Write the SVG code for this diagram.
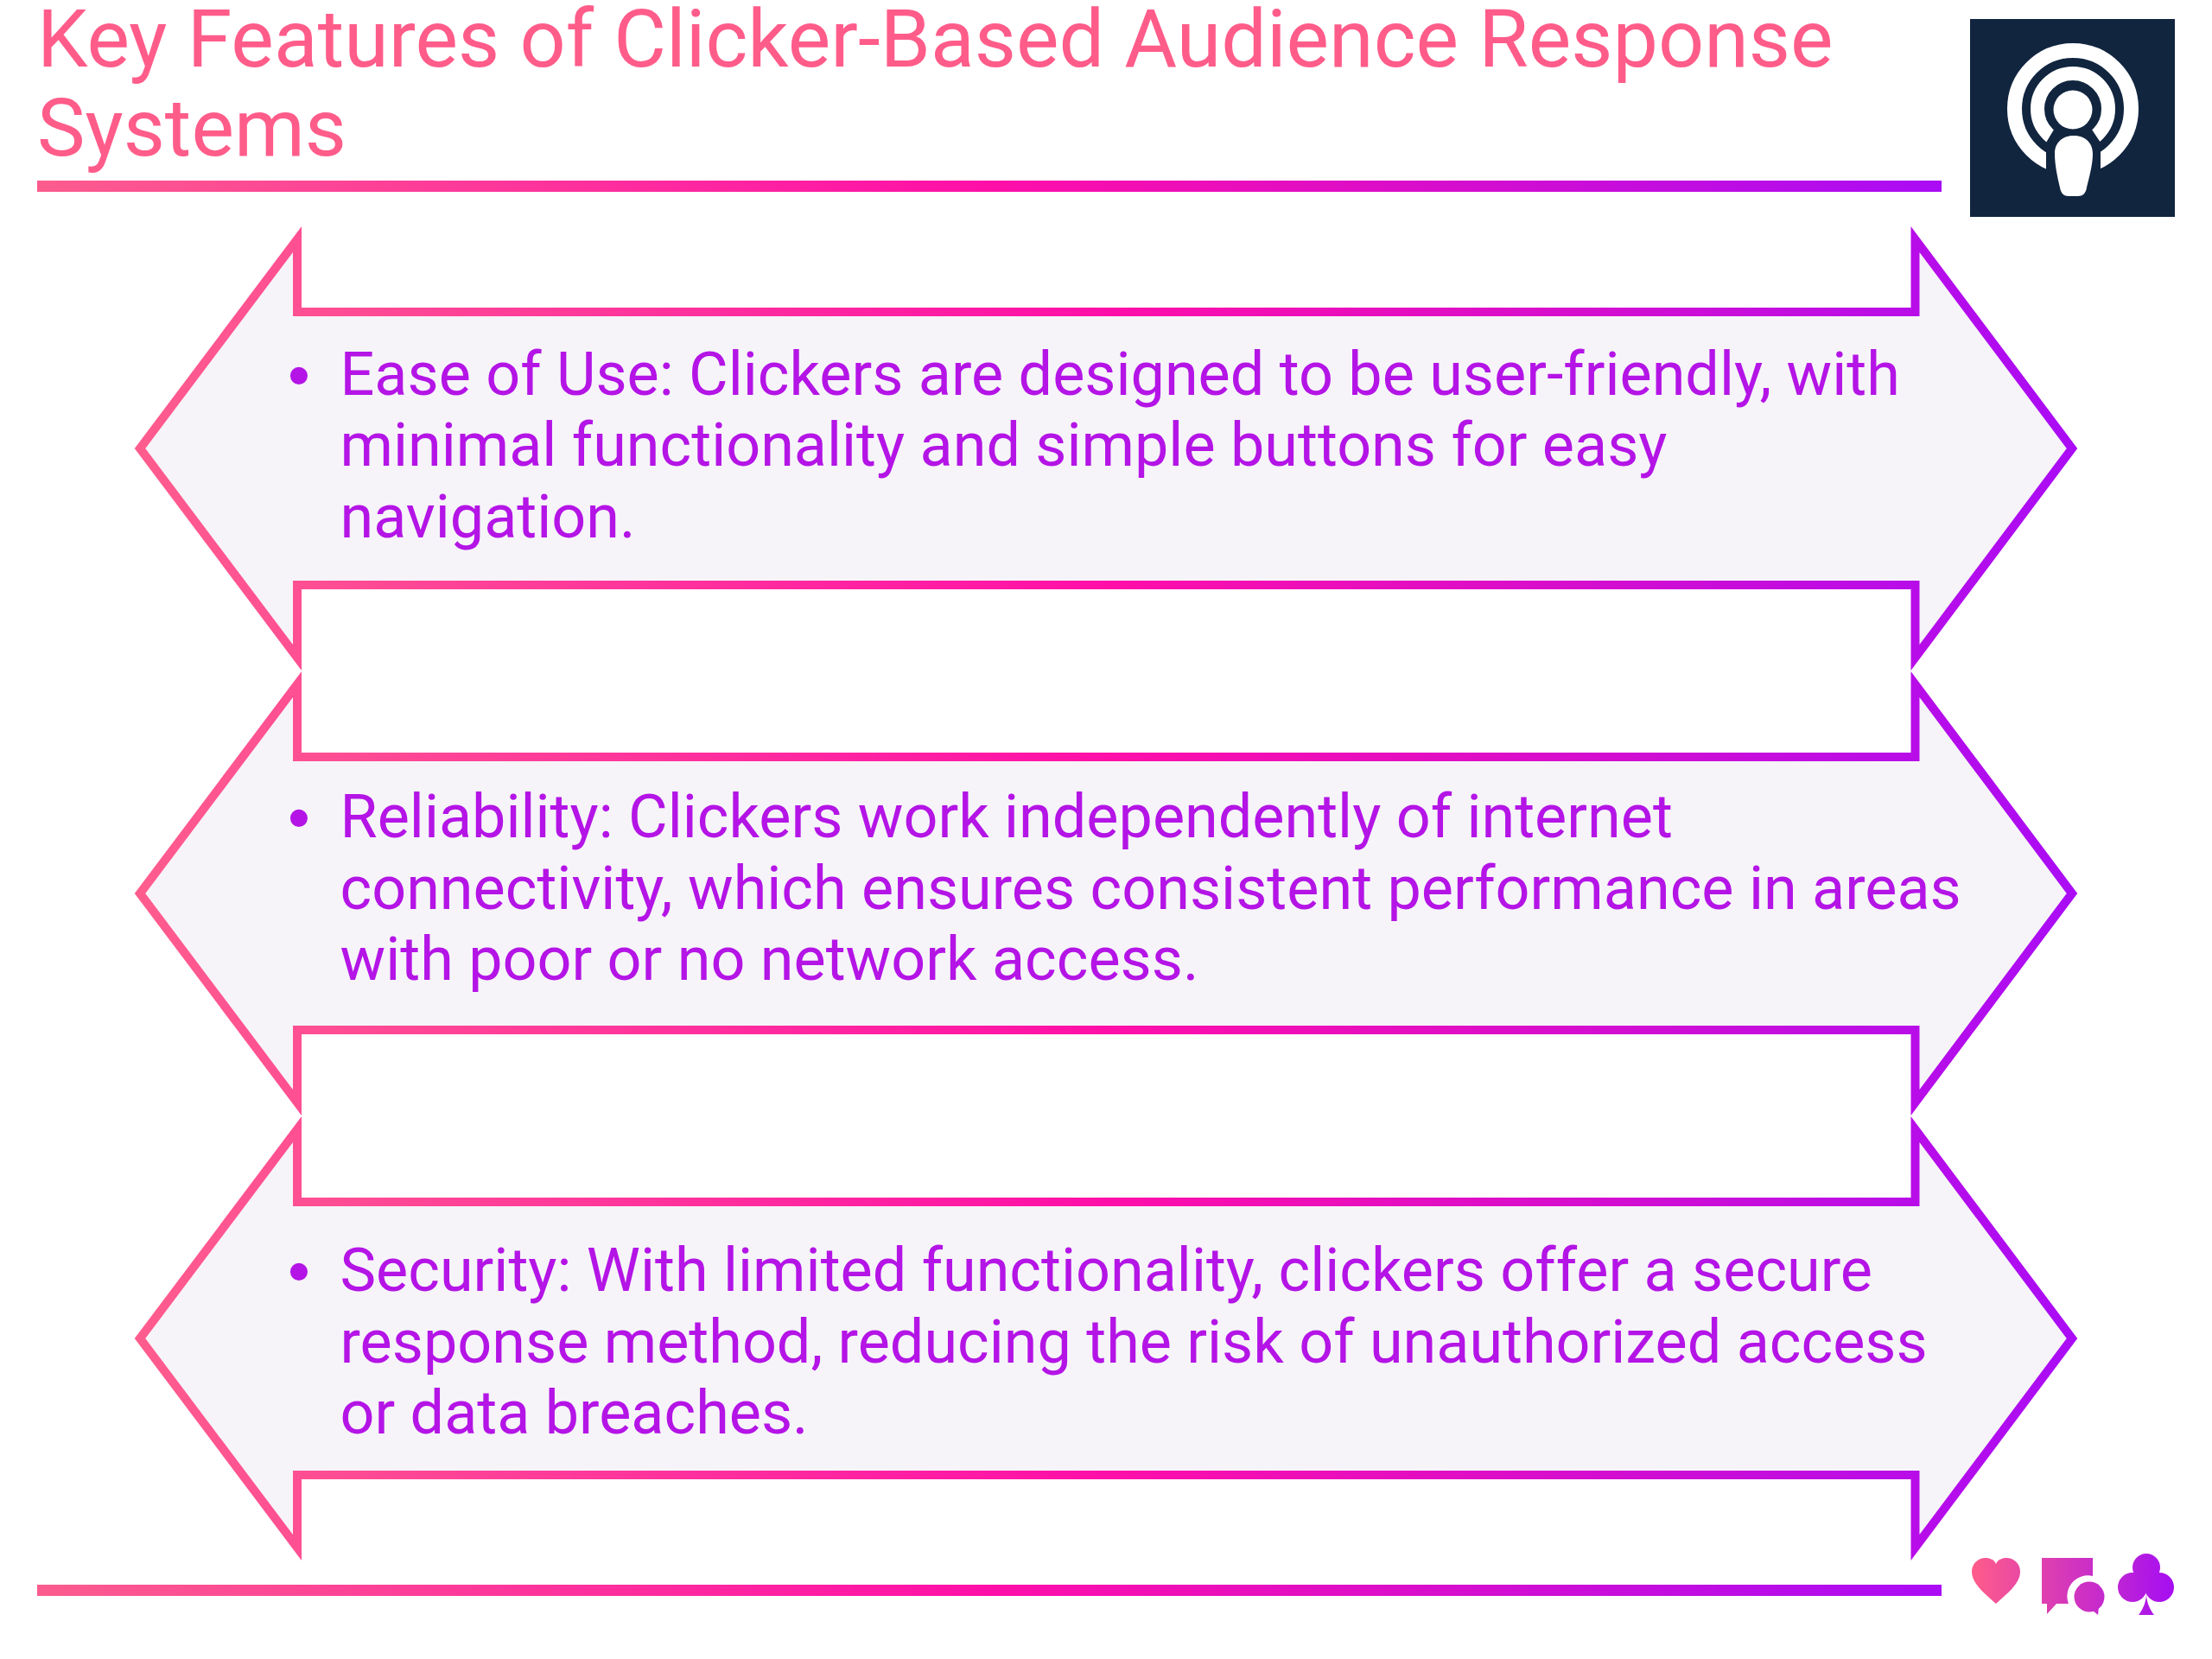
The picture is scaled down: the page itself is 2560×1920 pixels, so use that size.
<svg xmlns="http://www.w3.org/2000/svg" width="2560" height="1920" viewBox="0 0 2560 1920">
<style>
text{font-family:Roboto,"Liberation Sans",sans-serif}
.title{font-size:93.4px;fill:#ff5c8a}
.body{font-size:70.1px;fill:#b414e6}
.bullet{font-family:"Liberation Sans",Arial,sans-serif;font-size:74px;fill:#b414e6}
.arrow{fill:#f6f4f9;stroke:url(#ga);stroke-width:10;stroke-miterlimit:10}
.rule{fill:url(#gr)}
</style>
<defs>
<linearGradient id="gr" gradientUnits="objectBoundingBox" x1="0" y1="0" x2="1" y2="0"><stop offset="0" stop-color="#fb5c8e"/><stop offset=".5" stop-color="#ff0fa8"/><stop offset="1" stop-color="#aa0cf5"/></linearGradient>
<linearGradient id="ga" gradientUnits="objectBoundingBox" x1="0" y1="0" x2="1" y2="0"><stop offset="0" stop-color="#ff5c8e"/><stop offset=".5" stop-color="#ff0fa8"/><stop offset="1" stop-color="#aa0cf5"/></linearGradient>
<linearGradient id="gi" gradientUnits="userSpaceOnUse" x1="2282" y1="0" x2="2516" y2="0"><stop offset="0" stop-color="#ff5c8a"/><stop offset="1" stop-color="#a50ef2"/></linearGradient>
</defs>
<rect width="2560" height="1920" fill="#fff"/>
<g id="title"><text class="title" x="43" y="77">Key Features of Clicker-Based Audience Response</text><text class="title" x="43" y="180">Systems</text></g>
<g id="rules"><rect class="rule" x="43" y="209" width="2204" height="13"/><rect class="rule" x="43" y="1834" width="2204" height="13"/></g>
<g id="logo">
<rect x="2280" y="22" width="237" height="229" fill="#11253f"/>
<circle cx="2399" cy="126" r="67.5" fill="none" stroke="#fff" stroke-width="17"/>
<circle cx="2399" cy="126" r="41" fill="none" stroke="#fff" stroke-width="16"/>
<path d="M2377 150H2421L2431 165V205H2368V165Z" fill="#11253f"/>
<circle cx="2399" cy="127" r="22.5" fill="#fff"/>
<path fill="#fff" d="M2378 178C2378 164 2388 157 2400 157C2412 157 2422 164 2422 178C2422 190 2418 205 2415 217C2414 224 2410 227 2405 227H2394C2389 227 2385 224 2384 217C2381 205 2378 190 2378 178Z"/>
</g>
<g id="arrow-1"><path class="arrow" d="M162 519L344 277V361H2216.5V277L2398 519L2216.5 761V677H344V761Z"/>
<text class="bullet" x="333" y="460">•</text>
<text class="body" x="393.5" y="457">Ease of Use: Clickers are designed to be user-friendly, with</text>
<text class="body" x="393.5" y="539">minimal functionality and simple buttons for easy</text>
<text class="body" x="393.5" y="622">navigation.</text></g>
<g id="arrow-2"><path class="arrow" d="M162 1034L344 792V876H2216.5V792L2398 1034L2216.5 1276V1192H344V1276Z"/>
<text class="bullet" x="333" y="972">•</text>
<text class="body" x="393.5" y="969">Reliability: Clickers work independently of internet</text>
<text class="body" x="393.5" y="1052">connectivity, which ensures consistent performance in areas</text>
<text class="body" x="393.5" y="1134">with poor or no network access.</text></g>
<g id="arrow-3"><path class="arrow" d="M162 1549L344 1307V1391H2216.5V1307L2398 1549L2216.5 1791V1707H344V1791Z"/>
<text class="bullet" x="333" y="1497">•</text>
<text class="body" x="393.5" y="1494">Security: With limited functionality, clickers offer a secure</text>
<text class="body" x="393.5" y="1577">response method, reducing the risk of unauthorized access</text>
<text class="body" x="393.5" y="1659">or data breaches.</text></g>
<g id="icons" fill="url(#gi)">
<path id="heart" d="M2310 1856C2298 1845 2282 1833 2282 1819C2282 1809 2290 1803 2298 1803C2303 1803 2308 1805 2310 1810C2312 1805 2317 1803 2322 1803C2330 1803 2338 1809 2338 1819C2338 1833 2322 1845 2310 1856Z"/>
<path id="speech" d="M2363 1803H2422V1824A24 24 0 0 0 2394 1856H2380L2369 1868V1856H2363Z"/>
<g id="bubble"><circle cx="2418" cy="1848" r="17.5"/><path d="M2422 1864L2428 1869L2429 1860Z"/></g>
<g id="club"><circle cx="2484" cy="1814" r="16"/><circle cx="2468" cy="1837" r="17"/><circle cx="2499" cy="1837" r="17"/><path d="M2478 1825H2490V1845L2484 1844Z"/><path d="M2484 1844C2484 1855 2479 1864 2475 1869H2493C2489 1864 2484 1855 2484 1844Z"/></g>
</g>
</svg>
